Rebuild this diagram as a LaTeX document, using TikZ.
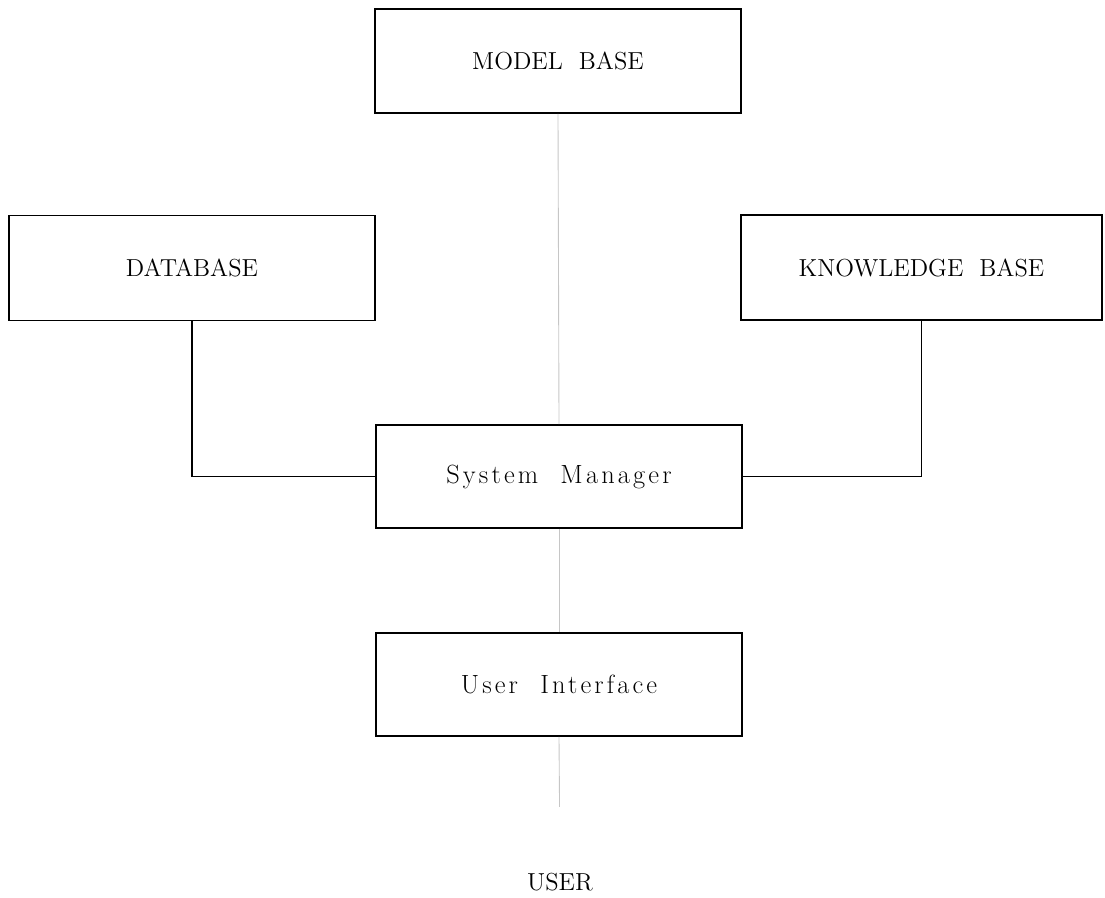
\documentclass[tikz,border=0pt]{standalone}
\usepackage{fontspec}
\setmainfont{Latin Modern Roman}
\newfontfamily\espace[LetterSpace=12]{Latin Modern Roman}
\usepackage{tikz}

\tikzset{
  bloc/.style={draw, line width=1.1pt, minimum width=7.32cm, minimum height=2.08cm, font=\fontsize{14}{16}\selectfont},
  blocbas/.style={bloc, font=\espace\fontsize{15}{17}\selectfont},
  lien/.style={line width=1.1pt},
  pale/.style={draw=gray!45, line width=0.5pt}
}

\begin{document}
\begin{tikzpicture}[x=0.02cm, y=-0.02cm]
    % cadre de la page
    \useasboundingbox (0,0) rectangle (1105,898);

    % les blocs
    \node[bloc] (mb) at (558,61) {MODEL\ \ BASE};
    \node[bloc, minimum height=2.1cm] (db) at (192,268) {DATABASE};
    \node[bloc, minimum width=7.22cm, minimum height=2.1cm] (kb) at (921.5,267.5) {KNOWLEDGE\ \ BASE};
    \node[blocbas, minimum height=2.06cm] (sm) at (559,476.5) {System\ \ Manager};
    \node[blocbas, minimum height=2.06cm] (ui) at (559,684.5) {User\ \ Interface};
    \node[font=\fontsize{14}{16}\selectfont] (user) at (560,882) {USER};

    % liaisons
    \draw[lien] (db.south) |- (sm.west);
    \draw[lien] (kb.south) |- (sm.east);

    % traits verticaux pales
    \draw[pale] (mb.south) -- (sm.north);
    \draw[pale] (sm.south) -- (ui.north);
    \draw[pale, shorten >=1.2cm] (ui.south) -- (user.north);
\end{tikzpicture}
\end{document}
